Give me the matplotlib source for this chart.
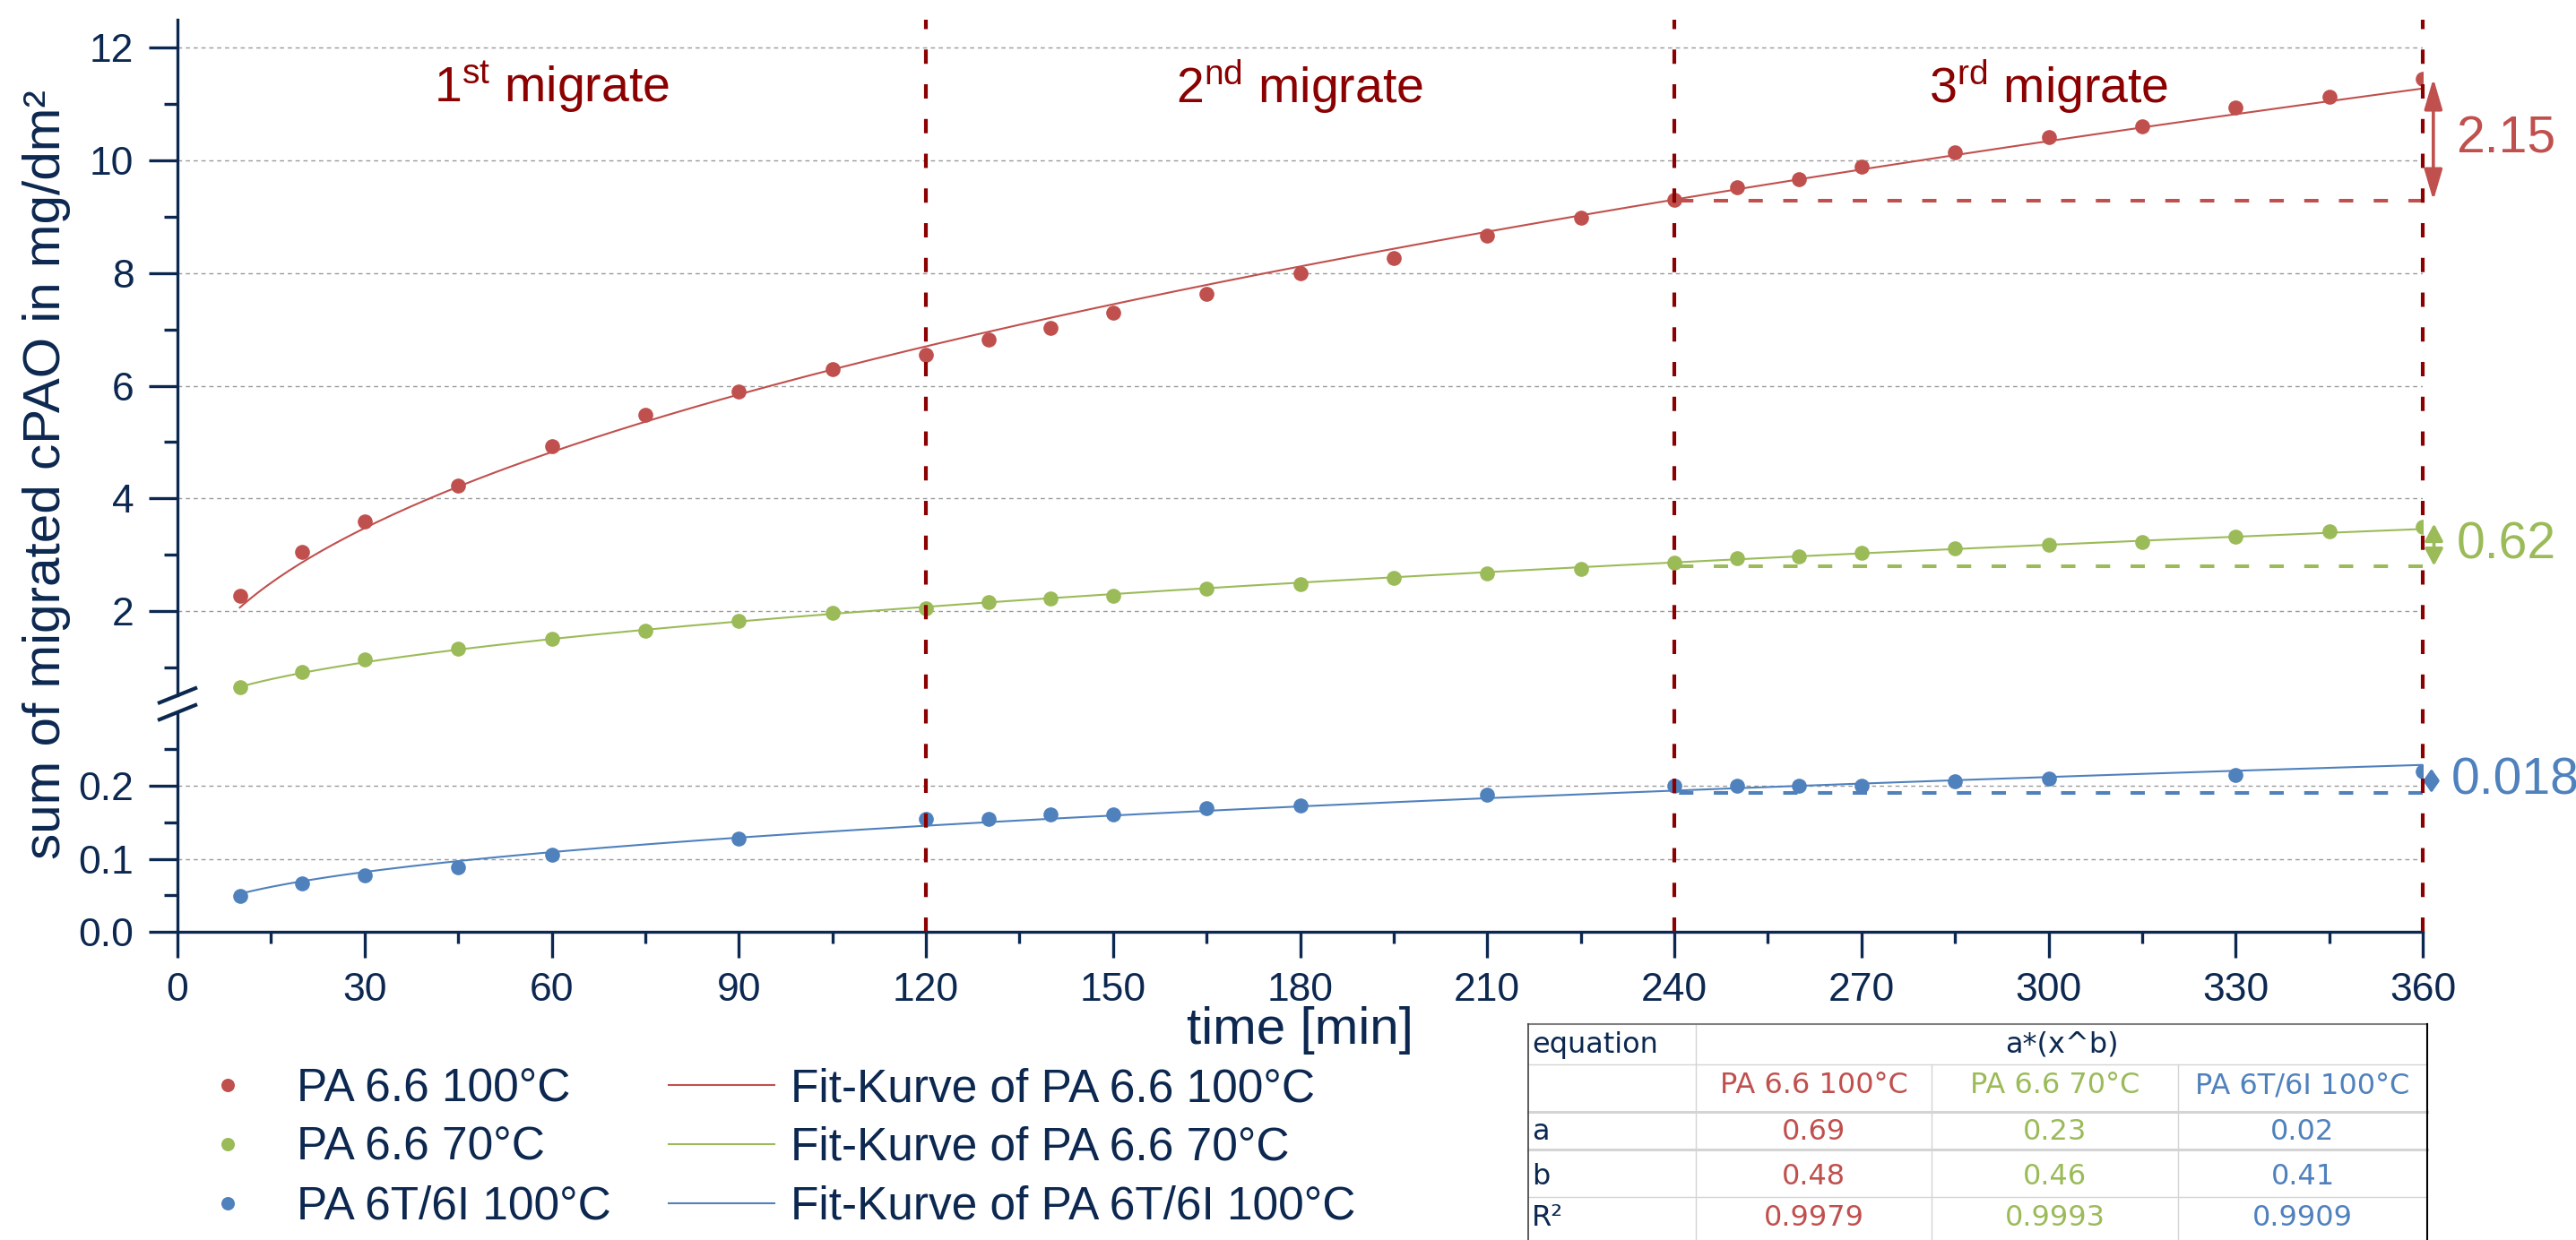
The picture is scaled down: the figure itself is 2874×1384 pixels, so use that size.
import numpy as np
import matplotlib
matplotlib.use('Agg')
import matplotlib.pyplot as plt
from matplotlib.lines import Line2D
from matplotlib import transforms
from matplotlib.ticker import FixedLocator, FormatStrFormatter

plt.rcParams['font.family'] = ['Liberation Sans', 'DejaVu Sans']
plt.rcParams['lines.scale_dashes'] = False
plt.rcParams['mathtext.fontset'] = 'custom'
plt.rcParams['mathtext.rm'] = 'Liberation Sans'
plt.rcParams['mathtext.it'] = 'Liberation Sans:italic'
plt.rcParams['mathtext.bf'] = 'Liberation Sans:bold'

# ---------------- data ----------------
time_pa66 = [10, 20, 30, 45, 60, 75, 90, 105, 120, 130, 140, 150, 165, 180, 195,
             210, 225, 240, 250, 260, 270, 285, 300, 315, 330, 345, 360]
pa66_100 = [2.27, 3.05, 3.59, 4.22, 4.93, 5.49, 5.89, 6.30, 6.55, 6.82, 7.03, 7.29,
            7.63, 7.99, 8.27, 8.67, 8.98, 9.30, 9.52, 9.66, 9.89, 10.14, 10.41,
            10.60, 10.94, 11.13, 11.45]
pa66_70 = [0.64, 0.92, 1.14, 1.33, 1.51, 1.65, 1.83, 1.96, 2.05, 2.16, 2.22, 2.27,
           2.39, 2.48, 2.58, 2.67, 2.75, 2.86, 2.93, 2.97, 3.03, 3.11, 3.18, 3.23,
           3.32, 3.41, 3.50]
time_pa6t = [10, 20, 30, 45, 60, 90, 120, 130, 140, 150, 165, 180, 210, 240, 250,
             260, 270, 285, 300, 330, 360]
pa6t_100 = [0.049, 0.067, 0.077, 0.089, 0.106, 0.128, 0.154, 0.154, 0.160, 0.160,
            0.169, 0.173, 0.188, 0.200, 0.200, 0.200, 0.200, 0.206, 0.209, 0.214,
            0.219]

series_labels = ['PA 6.6 100°C', 'PA 6.6 70°C', 'PA 6T/6I 100°C']
fit_labels = ['Fit-Kurve of PA 6.6 100°C', 'Fit-Kurve of PA 6.6 70°C',
              'Fit-Kurve of PA 6T/6I 100°C']

x_ticks = list(range(0, 361, 30))
x_minor = list(range(15, 360, 30))
upper_ticks = [2, 4, 6, 8, 10, 12]
upper_minor = [1, 3, 5, 7, 9, 11]
lower_ticks = [0.0, 0.1, 0.2]
lower_minor = [0.05, 0.15, 0.25]

migrate_numbers = ['1', '2', '3']
migrate_ordinals = ['st', 'nd', 'rd']
migrate_centers = [60, 180, 300]
migrate_boundaries = [120, 240, 360]

delta_base = [9.29, 2.80, 0.190]
delta_top = [11.46, 3.55, 0.223]
delta_text = ['2.15', '0.62', '0.018']

table_series = ['PA 6.6 100°C', 'PA 6.6 70°C', 'PA 6T/6I 100°C']
table_a = ['0.69', '0.23', '0.02']
table_b = ['0.48', '0.46', '0.41']
table_r2 = ['0.9979', '0.9993', '0.9909']

# ---------------- styles ----------------
NAVY = '#0C2850'
DARKRED = '#8B0000'
RED = '#C0504D'
GREEN = '#9BBB59'
BLUE = '#4F81BD'
GRIDC = '#9A9A9A'
colors = [RED, GREEN, BLUE]

W_PX, H_PX = 2874, 1384
def fx(px):
    return px / W_PX
def fy(py):
    return 1 - py / H_PX

fig = plt.figure(figsize=(28.74, 13.84), dpi=100)

L = fx(198); R = fx(2703)
UB, UT = fy(776.2), fy(22)
LB, LT = fy(1040.3), fy(795)
ax_up = fig.add_axes([L, UB, R - L, UT - UB])
ax_low = fig.add_axes([L, LB, R - L, LT - LB])


def power_fit(x, y):
    x = np.asarray(x, float); y = np.asarray(y, float)
    b, la = np.polyfit(np.log(x), np.log(y), 1)
    a = np.exp(la)
    for _ in range(60):
        f = a * x ** b
        J = np.column_stack([x ** b, f * np.log(x)])
        d = np.linalg.lstsq(J, y - f, rcond=None)[0]
        a += d[0]; b += d[1]
    return a, b


for ax in (ax_up, ax_low):
    ax.set_xlim(0, 360)
    ax.set_facecolor('none')
    ax.spines['right'].set_visible(False)
    ax.spines['top'].set_visible(False)
    for s in ('left', 'bottom'):
        ax.spines[s].set_color(NAVY)
        ax.spines[s].set_linewidth(2.4)
    ax.tick_params(axis='y', which='major', length=23, width=2.4, color=NAVY,
                   labelsize=32, labelcolor=NAVY, pad=12)
    ax.tick_params(axis='y', which='minor', length=11, width=2.4, color=NAVY)
    ax.yaxis.grid(True, which='major', color=GRIDC, lw=1.0, ls=(0, (3.4, 2.9)))
    ax.set_axisbelow(True)

ax_up.spines['bottom'].set_visible(False)
ax_up.tick_params(axis='x', which='both', bottom=False, labelbottom=False)
ax_up.set_ylim(0.5, 12.5)
ax_up.yaxis.set_major_locator(FixedLocator(upper_ticks))
ax_up.yaxis.set_minor_locator(FixedLocator(upper_minor))

ax_low.set_ylim(0, 0.3)
ax_low.yaxis.set_major_locator(FixedLocator(lower_ticks))
ax_low.yaxis.set_minor_locator(FixedLocator(lower_minor))
ax_low.yaxis.set_major_formatter(FormatStrFormatter('%.1f'))
ax_low.xaxis.set_major_locator(FixedLocator(x_ticks))
ax_low.xaxis.set_minor_locator(FixedLocator(x_minor))
ax_low.tick_params(axis='x', which='major', length=21, width=2.4, color=NAVY,
                   labelsize=32, labelcolor=NAVY, pad=11)
ax_low.tick_params(axis='x', which='minor', length=9, width=2.4, color=NAVY)

# series
point_handles = []
fit_handles = []
for ax, t, y, c in [(ax_up, time_pa66, pa66_100, RED),
                    (ax_up, time_pa66, pa66_70, GREEN),
                    (ax_low, time_pa6t, pa6t_100, BLUE)]:
    a, b = power_fit(t, y)
    xs = np.linspace(min(t), max(t), 400)
    fl, = ax.plot(xs, a * xs ** b, color=c, lw=1.5, zorder=3)
    pl, = ax.plot(t, y, 'o', color=c, ms=12, mec='none', ls='none', zorder=4)
    point_handles.append(pl)
    fit_handles.append(fl)

# vertical migrate boundaries spanning both axes
trans = transforms.blended_transform_factory(ax_low.transData, fig.transFigure)
for xb in migrate_boundaries:
    fig.add_artist(Line2D([xb, xb], [LB, UT], transform=trans, color=DARKRED,
                          lw=3.0, dashes=(11.5, 16.4), zorder=5))

# migrate labels
for n, o, xc in zip(migrate_numbers, migrate_ordinals, migrate_centers):
    ax_up.text(xc, 11.02, n + r'$^{\mathrm{' + o + '}}$ migrate', ha='center',
               va='baseline', fontsize=40, color=DARKRED)

# deltas in 3rd migrate
arrow_styles = ['<|-|>,head_length=0.58,head_width=0.17',
                '<|-|>,head_length=0.32,head_width=0.17',
                '<|-|>,head_length=0.2,head_width=0.14']
for ax, base, top, txt, c, st, xa, xt in [
        (ax_up, delta_base[0], delta_top[0], delta_text[0], RED, arrow_styles[0], 361.7, 365.4),
        (ax_up, delta_base[1], delta_top[1], delta_text[1], GREEN, arrow_styles[1], 361.8, 365.4),
        (ax_low, delta_base[2], delta_top[2], delta_text[2], BLUE, arrow_styles[2], 361.4, 364.6)]:
    ax.plot([360, 240], [base, base], color=c, lw=2.9, dashes=(11.5, 16.4),
            zorder=5)
    ax.annotate('', xy=(xa, top), xytext=(xa, base),
                arrowprops=dict(arrowstyle=st, color=c, lw=2.6,
                                mutation_scale=36, shrinkA=0, shrinkB=0),
                annotation_clip=False)
    ax.text(xt, (base + top) / 2, txt, color=c, fontsize=41, ha='left',
            va='center', clip_on=False)

# break marks
dx, dy = 22 / W_PX, 8.85 / H_PX
for yc in (UB, LT):
    fig.add_artist(Line2D([L - dx, L + dx], [yc - dy, yc + dy], color=NAVY,
                          lw=3, solid_capstyle='butt', transform=fig.transFigure))

# axis labels
ax_low.set_xlabel('time [min]', fontsize=42, color=NAVY)
ax_low.xaxis.set_label_coords(0.5, -0.339)
fig.text(fx(52), fy(530), 'sum of migrated cPAO in mg/dm²', rotation=90,
         ha='center', va='center', fontsize=42, color=NAVY)

# legend
fig.legend(point_handles + fit_handles, series_labels + fit_labels,
           loc='upper left', bbox_to_anchor=(fx(195), fy(1191)), ncol=2,
           frameon=False, fontsize=37, handlelength=2.3, handletextpad=0.35,
           columnspacing=1.25, labelspacing=0.33, borderpad=0, borderaxespad=0,
           labelcolor=NAVY, numpoints=1, markerscale=0.9)

# table
col_edges = [1705, 1892, 2155, 2430, 2708]
row_edges = [1143, 1188, 1241, 1283, 1336, 1400]
TF = ['DejaVu Sans']
TS = 23
def hline(y, x0, x1, c, lw):
    fig.add_artist(Line2D([fx(x0), fx(x1)], [fy(y), fy(y)], color=c, lw=lw,
                          transform=fig.transFigure))
def vline(x, y0, y1, c, lw):
    fig.add_artist(Line2D([fx(x), fx(x)], [fy(y0), fy(y1)], color=c, lw=lw,
                          transform=fig.transFigure))

hline(row_edges[1], col_edges[0], col_edges[4], '#D4D4D4', 1.0)
hline(row_edges[2], col_edges[0], col_edges[4], '#D4D4D4', 2.2)
hline(row_edges[3], col_edges[0], col_edges[4], '#D4D4D4', 2.2)
hline(row_edges[4], col_edges[0], col_edges[4], '#D4D4D4', 1.0)
vline(col_edges[1], row_edges[0], row_edges[5], '#D4D4D4', 1.0)
vline(col_edges[2], row_edges[1], row_edges[5], '#D4D4D4', 1.0)
vline(col_edges[3], row_edges[1], row_edges[5], '#D4D4D4', 1.0)
hline(row_edges[0], col_edges[0], col_edges[4], '#808080', 1.5)
vline(col_edges[0], row_edges[0], row_edges[5], '#404040', 1.2)
vline(col_edges[4], row_edges[0], row_edges[5], '#000000', 1.5)

row_c = [1166, 1212, 1263, 1313, 1360]
col_c = [(col_edges[i] + col_edges[i + 1]) / 2 for i in range(1, 4)]
fig.text(fx(1709), fy(row_c[0]), 'equation', family=TF, fontsize=TS, color=NAVY,
         ha='left', va='center')
fig.text(fx((col_edges[1] + col_edges[4]) / 2), fy(row_c[0]), 'a*(x^b)', family=TF,
         fontsize=TS, color=NAVY, ha='center', va='center')
for lab, r in zip(['a', 'b', 'R²'], row_c[2:]):
    fig.text(fx(1709), fy(r), lab, family=TF, fontsize=TS, color=NAVY,
             ha='left', va='center')
for i in range(3):
    for vals, r in zip([table_series, table_a, table_b, table_r2], row_c[1:]):
        fig.text(fx(col_c[i]), fy(r), vals[i], family=TF, fontsize=TS,
                 color=colors[i], ha='center', va='center')

fig.savefig('out.png', dpi=100)
